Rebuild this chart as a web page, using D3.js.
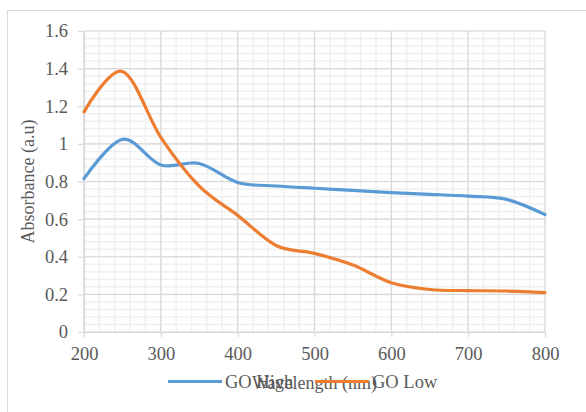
<!DOCTYPE html>
<html>
<head>
<meta charset="utf-8">
<script src="https://cdn.jsdelivr.net/npm/d3@7"></script>
<style>
  body { margin: 0; background: #fff; }
  svg text { font-family: "Liberation Serif", "Times New Roman", serif; fill: #595959; }
</style>
</head>
<body>
<svg id="chart" width="586" height="412"></svg>
<script>
// wavelength (nm) sampled every 50 nm
var wavelengths = [200, 250, 300, 350, 400, 450, 500, 550, 600, 650, 700, 750, 800];
var goHigh = [0.815, 1.024, 0.888, 0.896, 0.795, 0.776, 0.764, 0.753, 0.741, 0.732, 0.722, 0.705, 0.624];
var goLow  = [1.17, 1.385, 1.035, 0.775, 0.62, 0.46, 0.418, 0.356, 0.262, 0.226, 0.22, 0.218, 0.209];
var xTicks = [200, 300, 400, 500, 600, 700, 800];
var yTicks = [0, 0.2, 0.4, 0.6, 0.8, 1, 1.2, 1.4, 1.6];
var seriesNames = ["GO High", "GO Low"];
var seriesColors = ["#5b9bd5", "#ed7d31"];

var svg = d3.select("#chart");

// outer chart frame (runs off the right/bottom edge like the original)
svg.append("rect")
    .attr("x", 7.5).attr("y", 10.5)
    .attr("width", 600).attr("height", 420)
    .attr("fill", "none").attr("stroke", "#d9d9d9");

var plotL = 84, plotR = 545, plotT = 31, plotB = 332;

var x = d3.scaleLinear().domain([200, 800]).range([plotL, plotR]);
var y = d3.scaleLinear().domain([0, 1.6]).range([plotB, plotT]);

// minor grid
var minorX = d3.range(200, 801, 20);
var minorY = d3.range(0, 1.6001, 0.04);
var grid = svg.append("g");
grid.selectAll(".mx").data(minorX).enter().append("line")
    .attr("x1", d => x(d)).attr("x2", d => x(d))
    .attr("y1", plotT).attr("y2", plotB)
    .attr("stroke", "#f0f0f0").attr("stroke-width", 1.5);
grid.selectAll(".my").data(minorY).enter().append("line")
    .attr("y1", d => y(d)).attr("y2", d => y(d))
    .attr("x1", plotL).attr("x2", plotR)
    .attr("stroke", "#f0f0f0").attr("stroke-width", 1.5);

// major grid
grid.selectAll(".gx").data(xTicks).enter().append("line")
    .attr("x1", d => x(d)).attr("x2", d => x(d))
    .attr("y1", plotT).attr("y2", plotB)
    .attr("stroke", "#d9d9d9").attr("stroke-width", 1.2);
grid.selectAll(".gy").data(yTicks).enter().append("line")
    .attr("y1", d => y(d)).attr("y2", d => y(d))
    .attr("x1", plotL).attr("x2", plotR)
    .attr("stroke", "#d9d9d9").attr("stroke-width", 1.2);

// axes
var xAxis = svg.append("g")
    .attr("transform", "translate(0," + plotB + ")")
    .call(d3.axisBottom(x).tickValues(xTicks).tickSize(5).tickPadding(10));
var yAxis = svg.append("g")
    .attr("transform", "translate(" + plotL + ",0)")
    .call(d3.axisLeft(y).tickValues(yTicks).tickSize(6).tickPadding(10)
        .tickFormat(d => String(+d.toFixed(1))));
[xAxis, yAxis].forEach(function (a) {
    a.select(".domain").attr("stroke", "#d9d9d9").attr("stroke-width", 1.2);
    a.selectAll(".tick line").attr("stroke", "#d9d9d9").attr("stroke-width", 1.2);
    a.selectAll("text").attr("font-size", 18.5)
        .attr("font-family", "Liberation Serif").attr("fill", "#595959");
});

// lines
var line = d3.line().curve(d3.curveCardinal)
    .x((d, i) => x(wavelengths[i])).y(d => y(d));
[goHigh, goLow].forEach(function (s, i) {
    svg.append("path").datum(s)
        .attr("d", line)
        .attr("fill", "none")
        .attr("stroke", seriesColors[i])
        .attr("stroke-width", 3.2)
        .attr("stroke-linecap", "round");
});

// axis titles
svg.append("text")
    .attr("transform", "translate(34," + ((plotT + plotB) / 2) + ") rotate(-90)")
    .attr("text-anchor", "middle")
    .attr("font-size", 18)
    .text("Absorbance (a.u)");
svg.append("text")
    .attr("x", (plotL + plotR) / 2).attr("y", 389)
    .attr("text-anchor", "middle")
    .attr("font-size", 18)
    .text("Wavelength (nm)");

// legend
var legend = svg.append("g");
var legendX = [168, 315];
seriesNames.forEach(function (n, i) {
    legend.append("line")
        .attr("x1", legendX[i]).attr("x2", legendX[i] + 54)
        .attr("y1", 381.5).attr("y2", 381.5)
        .attr("stroke", seriesColors[i]).attr("stroke-width", 3.2);
    legend.append("text")
        .attr("x", legendX[i] + 57).attr("y", 388)
        .attr("font-size", 18.5)
        .text(n);
});
</script>
</body>
</html>
